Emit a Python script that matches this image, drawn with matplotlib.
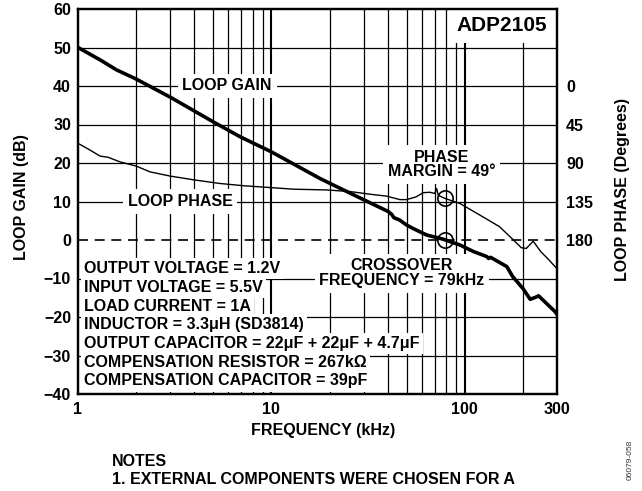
import matplotlib
matplotlib.use('Agg')
import matplotlib.pyplot as plt
import numpy as np

plt.rcParams['font.family'] = ['Liberation Sans', 'DejaVu Sans']
plt.rcParams['font.weight'] = 'bold'
plt.rcParams['font.size'] = 11.5

# loop gain (dB) vs frequency (kHz)
gain_freq = [1, 1.3, 1.58, 2, 3, 5, 6.9, 10, 17.8, 20.1, 29.9, 40.2, 42, 43, 46,
             50, 54, 63.5, 77.4, 94.4, 111, 130, 133, 136, 165, 177, 200, 218,
             232, 241, 265, 293, 300]
gain_db = [50, 46.8, 44.2, 41.8, 37.1, 30.7, 26.8, 22.9, 16.0, 14.7, 10.5, 7.4, 6.6,
           5.8, 5.2, 3.9, 3.0, 1.3, 0.2, -1.3, -3.0, -4.3, -4.8, -4.5, -6.9, -9.5,
           -12.6, -15.4, -14.9, -14.5, -16.5, -18.6, -19.3]

# loop phase (degrees) vs frequency (kHz)
phase_freq = [1, 1.15, 1.3, 1.43, 1.65, 2.0, 2.36, 3.0, 4.0, 5.4, 7.2, 10, 13, 19.3,
              25.4, 32.4, 39.4, 46.2, 50, 56, 61, 66, 70, 71.5, 73, 79, 94.4, 119.6,
              151, 177, 196, 208, 226, 247, 273, 293, 300]
phase_deg = [67.0, 74.7, 81.9, 83.3, 88.7, 93.6, 100.4, 105.3, 109.8, 113.9, 116.6,
             118.8, 120.6, 121.5, 123.3, 126.5, 128.7, 132.8, 132.8, 129.6, 124.7,
             124.2, 125.6, 119.7, 127.8, 131.4, 137.3, 150.8, 164.3, 179.1, 189.0,
             189.9, 181.4, 193.5, 203.4, 211.1, 213.3]

crossover_khz = 79
crossover_phase = 131.4

x_ticks = [1, 10, 100, 300]
x_ticklabels = ['1', '10', '100', '300']
x_minor = [2, 3, 4, 5, 6, 7, 8, 9, 20, 30, 40, 50, 60, 70, 80, 90, 200]
y_ticks = [-40, -30, -20, -10, 0, 10, 20, 30, 40, 50, 60]
phase_ticks = [0, 45, 90, 135, 180]

params = ['OUTPUT VOLTAGE = 1.2V',
          'INPUT VOLTAGE = 5.5V',
          'LOAD CURRENT = 1A',
          'INDUCTOR = 3.3\u03bcH (SD3814)',
          'OUTPUT CAPACITOR = 22\u03bcF + 22\u03bcF + 4.7\u03bcF',
          'COMPENSATION RESISTOR = 267k\u03a9',
          'COMPENSATION CAPACITOR = 39pF']

W, H = 642, 491
fig = plt.figure(figsize=(W / 100, H / 100), dpi=100)
ax = fig.add_axes([78 / W, 1 - 394 / H, 479 / W, 385 / H])

ax.set_xscale('log')
ax.set_xlim(1, 300)
ax.set_ylim(-40, 60)

# grid drawn by hand so the 0 dB line can be dashed
for f in x_minor:
    ax.axvline(f, color='k', lw=0.9, zorder=1)
for f in [10, 100]:
    ax.axvline(f, color='k', lw=1.5, zorder=1)
for y in y_ticks[1:-1]:
    if y == 0:
        ax.axhline(y, color='k', lw=1.2, ls=(0, (6, 4)), zorder=1)
    else:
        ax.axhline(y, color='k', lw=0.9, zorder=1)

ax.plot(gain_freq, gain_db, color='k', lw=2.6, zorder=5)
ax.plot([crossover_khz], [0], 'o', mfc='none', mec='k', ms=11, mew=1.2, zorder=6)

ax.set_xticks(x_ticks)
ax.set_xticklabels(x_ticklabels)
ax.xaxis.set_minor_locator(matplotlib.ticker.NullLocator())
ax.set_yticks(y_ticks)
ax.tick_params(axis='x', length=0, pad=6)
ax.tick_params(axis='y', length=0, pad=5)

box = dict(boxstyle='square,pad=0.3', fc='white', ec='none')
ax.text(5.9, 40, 'LOOP GAIN', ha='center', va='center', bbox=box, zorder=3)
ax.text(3.37, 10, 'LOOP PHASE', ha='center', va='center', bbox=box, zorder=3)
ax.text(76, 19.6, 'PHASE\nMARGIN = 49\u00b0', ha='center', va='center',
        linespacing=0.95, bbox=box, zorder=3)
ax.text(47.4, -8.7, 'CROSSOVER\nFREQUENCY = 79kHz', ha='center', va='center',
        linespacing=1.0, bbox=box, zorder=3)
ax.text(268, 55.6, 'ADP2105', ha='right', va='center', fontsize=15,
        bbox=dict(boxstyle='square,pad=0.35', fc='white', ec='none'), zorder=3)
for i, s in enumerate(params):
    ax.text(1.074, -7.45 - 4.86 * i, s, ha='left', va='center',
            bbox=dict(boxstyle='square,pad=0.2', fc='white', ec='none'), zorder=3)

for sp in ax.spines.values():
    sp.set_linewidth(1.6)
    sp.set_zorder(7)

ax2 = ax.twinx()
ax2.set_ylim(360, -90)
ax2.plot(phase_freq, phase_deg, color='k', lw=1.0)
ax2.plot([crossover_khz], [crossover_phase], 'o', mfc='none', mec='k', ms=11, mew=1.2)
ax2.set_yticks(phase_ticks)
ax2.tick_params(axis='y', length=0, pad=6.5)
for sp in ax2.spines.values():
    sp.set_linewidth(1.6)

fig.text(323 / W, 1 - 431 / H, 'FREQUENCY (kHz)', ha='center', va='center')
fig.text(22 / W, 1 - 197 / H, 'LOOP GAIN (dB)', ha='center', va='center', rotation=90)
fig.text(622 / W, 1 - 190 / H, 'LOOP PHASE (Degrees)', ha='center', va='center', rotation=90)
fig.text(112 / W, 1 - 462 / H, 'NOTES', ha='left', va='center')
fig.text(112 / W, 1 - 480 / H, '1. EXTERNAL COMPONENTS WERE CHOSEN FOR A', ha='left', va='center')
fig.text(630 / W, 1 - 460 / H, '06079-058', ha='center', va='center', rotation=90,
         fontsize=6, fontweight='normal', color='#333333')

plt.savefig('out.png', dpi=100)
